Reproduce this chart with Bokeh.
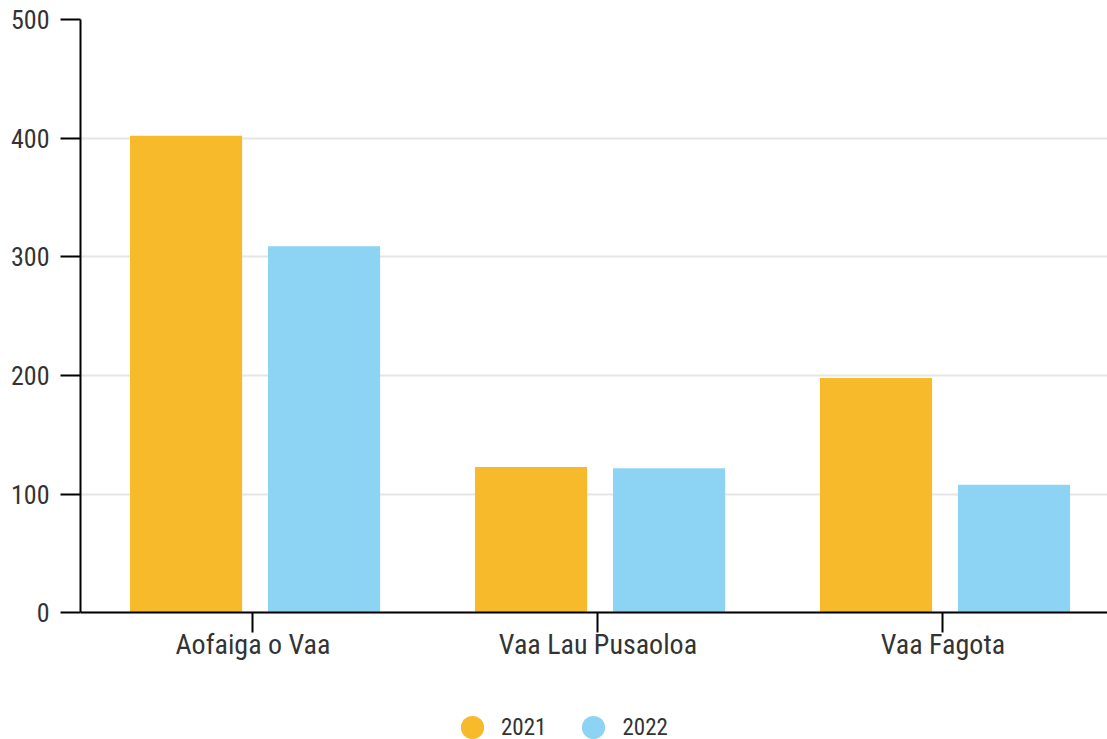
from bokeh.plotting import figure
from bokeh.models import (Range1d, FixedTicker, Legend, LegendItem, ColumnDataSource)
from bokeh.transform import dodge
from bokeh.embed import file_html
from bokeh.resources import INLINE

categories = ["Aofaiga o Vaa", "Vaa Lau Pusaoloa", "Vaa Fagota"]
years = ["2021", "2022"]
values_2021 = [402, 123, 198]
values_2022 = [309, 122, 108]
colors = ["#F6BA2A", "#8DD4F4"]
y_ticks = [0, 100, 200, 300, 400, 500]

FONT = "Roboto Condensed, Liberation Sans Narrow, DejaVu Sans Condensed, Roboto"
TEXT = "#333333"

xpos = [i + 0.5 for i in range(len(categories))]
src = ColumnDataSource(dict(x=xpos, v2021=values_2021, v2022=values_2022))

# frame covers the whole lower area; the value axis runs 0..500, the space
# below 0 holds the category labels and the legend
p = figure(width=1107, height=739, output_backend="svg", toolbar_location=None,
           x_range=Range1d(0, 2.977), y_range=Range1d(-106.6, 500),
           min_border_left=80, min_border_top=19, min_border_right=0,
           min_border_bottom=0)
p.outline_line_color = None
p.background_fill_color = "white"
p.border_fill_color = "white"

r1 = p.vbar(x=dodge("x", -0.194, range=p.x_range), top="v2021", width=0.325,
            source=src, fill_color=colors[0], line_color=None)
r2 = p.vbar(x=dodge("x", 0.206, range=p.x_range), top="v2022", width=0.325,
            source=src, fill_color=colors[1], line_color=None)

# zero-size markers on the same data: invisible in the plot, give circular legend glyphs
l1 = p.scatter(x=dodge("x", -0.194, range=p.x_range), y="v2021", source=src,
               marker="circle", size=0, fill_color=colors[0], line_color=None)
l2 = p.scatter(x=dodge("x", 0.206, range=p.x_range), y="v2022", source=src,
               marker="circle", size=0, fill_color=colors[1], line_color=None)

# axes
p.xaxis.ticker = FixedTicker(ticks=xpos)
p.xaxis.major_label_overrides = {x: c for x, c in zip(xpos, categories)}
p.xaxis.fixed_location = 0
p.yaxis.ticker = FixedTicker(ticks=y_ticks)
p.yaxis.bounds = (0, 500)
for ax in (p.xaxis[0], p.yaxis[0]):
    ax.axis_line_color = "black"
    ax.axis_line_width = 2
    ax.major_tick_line_color = "black"
    ax.major_tick_line_width = 2
    ax.major_tick_out = 20
    ax.major_tick_in = 0
    ax.minor_tick_out = 0
    ax.minor_tick_in = 0
    ax.major_label_text_font = FONT
    ax.major_label_text_color = TEXT
p.xaxis.major_label_text_font_size = "28px"
p.yaxis.major_label_text_font_size = "26px"
p.xaxis.major_label_standoff = -5
p.yaxis.major_label_standoff = 11

p.xgrid.grid_line_color = None
p.ygrid.grid_line_color = "#e6e6e6"
p.ygrid.grid_line_width = 2
p.ygrid.ticker = FixedTicker(ticks=y_ticks)

legend = Legend(items=[LegendItem(label=years[0], renderers=[l1]),
                       LegendItem(label=years[1], renderers=[l2])],
                orientation="horizontal", location=(363, -17),
                glyph_width=58, glyph_height=58, label_standoff=0,
                spacing=18, padding=0, margin=0,
                label_text_font=FONT, label_text_font_size="23px",
                label_text_color=TEXT, border_line_color=None,
                background_fill_alpha=0)
p.add_layout(legend, "center")

open("out.html", "w").write(file_html(p, INLINE))
